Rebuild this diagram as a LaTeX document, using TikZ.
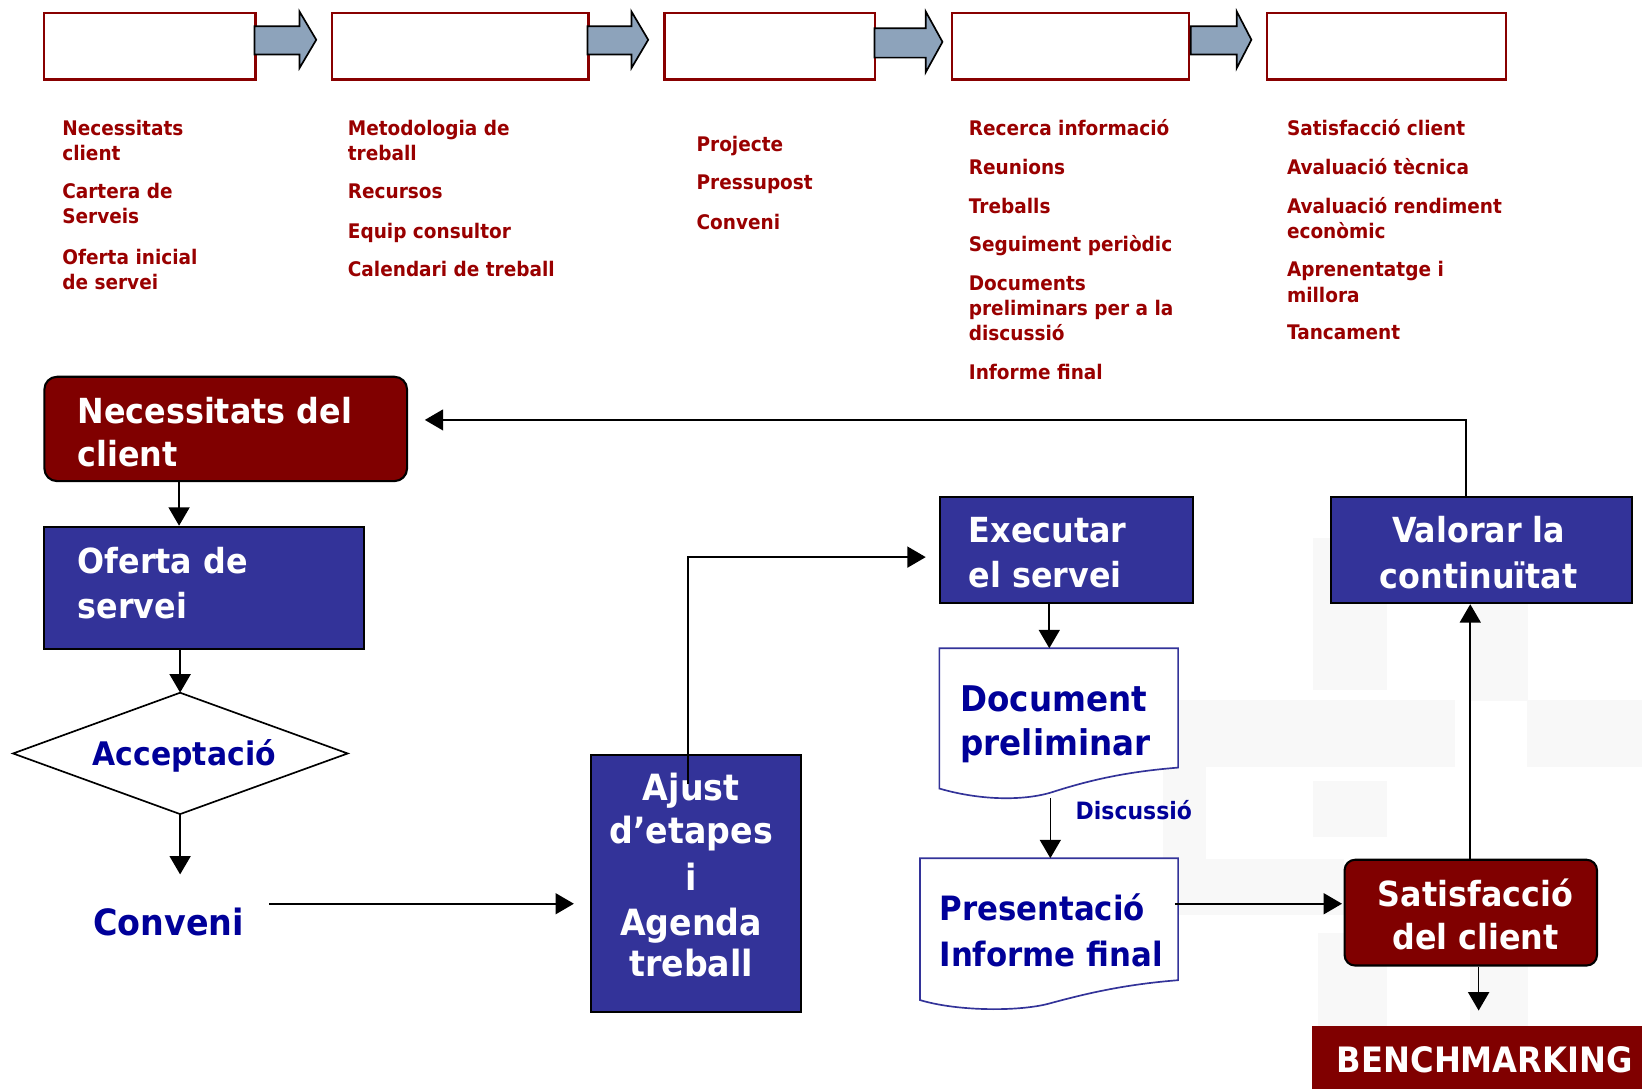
\documentclass[tikz,border=0pt]{standalone}
\usepackage{fontspec}
\newfontfamily\tb[FakeStretch=0.92]{DejaVu Sans Bold}
\usetikzlibrary{arrows.meta,calc}
\definecolor{mymaroon}{HTML}{800000}
\definecolor{topred}{HTML}{990000}
\definecolor{topborder}{HTML}{880000}
\definecolor{boxblue}{HTML}{333399}
\definecolor{txtblue}{HTML}{000099}
\definecolor{arrfill}{HTML}{8DA3BB}
\definecolor{wmark}{HTML}{F8F8F8}
\begin{document}
\begin{tikzpicture}[x=1pt,y=-1pt,
  toptxt/.style={anchor=base west,inner sep=0pt,text=topred,font=\tb\fontsize{19.2}{23}\selectfont},
  wtxt/.style={inner sep=0pt,text=white,font=\tb\fontsize{33}{40}\selectfont},
  btxt/.style={inner sep=0pt,text=txtblue,font=\tb\fontsize{33}{40}\selectfont},
  topbox/.style={draw=topborder,line width=2.2pt,fill=white,minimum width=#1,minimum height=63.3pt,anchor=north west,inner sep=0pt},
  bluebox/.style={draw=black,line width=2pt,fill=boxblue,anchor=north west,inner sep=0pt},
  redbox/.style={draw=black,line width=2pt,fill=mymaroon,anchor=north west,inner sep=0pt,rounded corners=12pt},
  docline/.style={draw=boxblue,line width=1.6pt,fill=white,line join=miter},
  barrow/.style={draw=black,line width=1.6pt,fill=arrfill,line join=miter},
  arr/.style={line width=1.6pt,-{Triangle[length=17.5pt,width=20pt]}},
  wm/.style={fill=wmark,draw=none}
]
\path[use as bounding box] (0,0) rectangle (1568,1039);

% faint watermark
\fill[wm] (1253.6,514) rectangle (1324.3,659);
\fill[wm] (1111,668) rectangle (1389.6,732);
\fill[wm] (1458,668) rectangle (1568,732);
\fill[wm] (1253.6,746) rectangle (1324.3,799);
\fill[wm] (1111,668) rectangle (1152,874);
\fill[wm] (1111,820) rectangle (1283,874);
\fill[wm] (1259,891) rectangle (1324,981);
\fill[wm] (1404,891) rectangle (1459,981);
\fill[wm] (1404,576) rectangle (1459,669);

% top boxes
\node[topbox=202pt] (t1) at (41,11.5) {};
\node[topbox=245.1pt] (t2) at (315.7,11.5) {};
\node[topbox=201.2pt] (t3) at (633.4,11.5) {};
\node[topbox=226.3pt] (t4) at (908,11.5) {};
\node[topbox=228pt] (t5) at (1209,11.5) {};

% block arrows
\draw[barrow] (243,25) -- (286,25) -- (286,11) -- (302,38) -- (286,65) -- (286,52) -- (243,52) -- cycle;
\draw[barrow] (561,25) -- (603,25) -- (603,11) -- (619,38) -- (603,65) -- (603,52) -- (561,52) -- cycle;
\draw[barrow] (835,27) -- (884,27) -- (884,11) -- (900,40) -- (884,69) -- (884,55) -- (835,55) -- cycle;
\draw[barrow] (1137,25) -- (1181,25) -- (1181,11) -- (1195,38) -- (1181,65) -- (1181,52) -- (1137,52) -- cycle;

% top texts
\foreach \yy/\tx [count=\i] in {129/Necessitats,153/client,190/Cartera de,213/Serveis,253/Oferta inicial,276/de servei}
  \node[toptxt] (ca\i) at (59.3,\yy) {\tx};
\foreach \yy/\tx [count=\i] in {129/Metodologia de,153/treball,190/Recursos,227.6/Equip consultor,264/Calendari de treball}
  \node[toptxt] (cb\i) at (332,\yy) {\tx};
\foreach \yy/\tx [count=\i] in {144.8/Projecte,180.8/Pressupost,218.7/Conveni}
  \node[toptxt] (cc\i) at (665,\yy) {\tx};
\foreach \yy/\tx [count=\i] in {129/Recerca informació,167/Reunions,203.7/Treballs,240/Seguiment periòdic,277.6/Documents,300.8/preliminars per a la,324.7/discussió,362/Informe final}
  \node[toptxt] (cd\i) at (925,\yy) {\tx};
\foreach \yy/\tx [count=\i] in {129/Satisfacció client,167/Avaluació tècnica,203.7/Avaluació rendiment,227.6/econòmic,264/Aprenentatge i,289/millora,324/Tancament}
  \node[toptxt] (ce\i) at (1228.8,\yy) {\tx};

% main boxes
\node[redbox,minimum width=346.3pt,minimum height=99.6pt] (nec) at (41.4,358.8) {};
\node[bluebox,minimum width=305.6pt,minimum height=117pt] (off) at (41.4,502) {};
\node[bluebox,minimum width=241pt,minimum height=101pt] (exe) at (897,474) {};
\node[bluebox,minimum width=287.5pt,minimum height=101pt] (val) at (1270,474) {};
\node[bluebox,minimum width=201pt,minimum height=245pt] (ajust) at (563,720.3) {};
\node[redbox,rounded corners=10pt,minimum width=241pt,minimum height=101pt] (sat) at (1283,820) {};
\node[anchor=north west,fill=mymaroon,inner sep=0pt,minimum width=316pt,minimum height=60pt] (bench) at (1252.5,980) {};

% diamond
\draw[line width=1.6pt,fill=white] (12.5,719.5) -- (172,661.5) -- (332,719.5) -- (172,777.4) -- cycle;
\node[inner sep=0pt,minimum width=319.5pt,minimum height=115.9pt] (acc) at (172,719.5) {};

% documents
\draw[docline] (897,619) -- (1125,619) -- (1125,733) .. controls (1075,737) and (1040,745) .. (1003,757) .. controls (975,765) and (935,764) .. (897,753) -- cycle;
\node[anchor=north west,inner sep=0pt,minimum width=228pt,minimum height=114pt] (doc1) at (897,619) {};
\draw[docline] (878.6,819.5) -- (1125,819.5) -- (1125,936) .. controls (1075,940) and (1040,948) .. (1003,958) .. controls (975,966) and (915,966) .. (878.6,955) -- cycle;
\node[anchor=north west,inner sep=0pt,minimum width=246.4pt,minimum height=116.5pt] (doc2) at (878.6,819.5) {};

% texts in boxes
\node[wtxt,anchor=base west] (necA) at (73.9,404.3) {Necessitats del};
\node[wtxt,anchor=base west] (necB) at (73.9,445.7) {client};
\node[wtxt,anchor=base west] (offA) at (73.9,547.5) {Oferta de};
\node[wtxt,anchor=base west] (offB) at (73.9,590.4) {servei};
\node[wtxt,anchor=base west] (exeA) at (925,518) {Executar};
\node[wtxt,anchor=base west] (exeB) at (925,561) {el servei};
\node[wtxt,anchor=base] (valA) at (1412,517.6) {Valorar la};
\node[wtxt,anchor=base] (valB) at (1412,561.7) {continuïtat};
\node[wtxt,anchor=base] (satA) at (1409,866) {Satisfacció};
\node[wtxt,anchor=base] (satB) at (1409,907) {del client};
\node[wtxt,anchor=base west,font=\tb\fontsize{33.4}{40}\selectfont] (benchT) at (1276.5,1024) {BENCHMARKING};
\foreach \yy/\tx [count=\i] in {764/Ajust,805/d’etapes,850/i,893/Agenda,932.7/treball}
  \node[wtxt,anchor=base,font=\tb\fontsize{34.5}{40}\selectfont] (aj\i) at (660,\yy) {\tx};
\node[btxt,anchor=base west,font=\tb\fontsize{34.6}{40}\selectfont] (conv) at (89,893) {Conveni};
\node[btxt,anchor=base,font=\tb\fontsize{31}{38}\selectfont] (accT) at (176,730.6) {Acceptació};
\node[btxt,anchor=base west,font=\tb\fontsize{33.8}{40}\selectfont] (docA) at (917,679.6) {Document};
\node[btxt,anchor=base west,font=\tb\fontsize{33.8}{40}\selectfont] (docB) at (917,721) {preliminar};
\node[btxt,anchor=base west,font=\tb\fontsize{32}{40}\selectfont] (presA) at (897,878.6) {Presentació};
\node[btxt,anchor=base west,font=\tb\fontsize{32}{40}\selectfont] (presB) at (897,923) {Informe final};
\node[btxt,anchor=base west,font=\tb\fontsize{22.8}{28}\selectfont] (disc) at (1027,783) {Discussió};

% connectors
\coordinate (convtop) at (172,835);
\coordinate (convout) at (257,863);
\coordinate (ajin) at (657,749);
\coordinate (doc1b) at (1003,762);
\coordinate (doc2out) at (1122,863);
\draw[arr] (171,0 |- nec.south) -- (171,0 |- off.north);
\draw[arr] (acc.north |- off.south) -- (acc.north);
\draw[arr] (acc.south) -- (convtop);
\draw[arr,shorten >=15pt] (convout) -- (convout -| ajust.west);
\draw[arr,shorten >=13pt] (ajin) |- ($(exe.west)+(0,6.5)$);
\draw[arr] (1002,0 |- exe.south) -- (1002,0 |- doc1.north);
\draw[arr] (doc1b) -- (doc1b |- doc2.north);
\draw[arr,shorten >=1.5pt] (doc2out) -- (doc2out -| sat.west);
\draw[arr] (1404,0 |- sat.north) -- (1404,0 |- val.south);
\draw[arr,shorten >=15pt] (1412,0 |- sat.south) -- (1412,0 |- bench.north);
\draw[arr,shorten >=16pt] (1400,0 |- val.north) -- (1400,401) -- (nec.east |- 0,401);
\end{tikzpicture}
\end{document}
